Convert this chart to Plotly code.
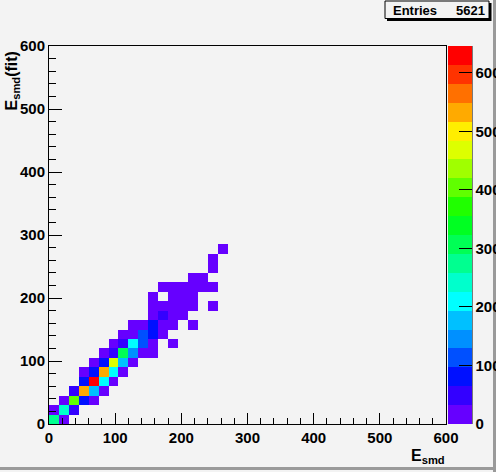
import plotly.graph_objects as go

# ---------------- data (bin lower edges in E_smd units, bin width 15) ----------------
bin_width = 15
n_bins = 40
cell_x = [0, 15,
          0, 15, 30,
          15, 30, 45, 60,
          30, 45, 60, 75,
          45, 60, 75, 90,
          45, 60, 75, 90, 105,
          60, 75, 90, 105, 120,
          75, 90, 105, 120, 135, 150,
          90, 105, 120, 135, 150, 180,
          105, 120, 135, 150, 165,
          120, 135, 150, 165, 180, 210,
          150, 165, 180, 195,
          150, 165, 180, 195, 210, 240,
          150, 180, 195, 210,
          165, 180, 195, 210, 225, 240,
          210, 225,
          240,
          240,
          255]
cell_y = [0, 0,
          15, 15, 15,
          30, 30, 30, 30,
          45, 45, 45, 45,
          60, 60, 60, 60,
          75, 75, 75, 75, 75,
          90, 90, 90, 90, 90,
          105, 105, 105, 105, 105, 105,
          120, 120, 120, 120, 120, 120,
          135, 135, 135, 135, 135,
          150, 150, 150, 150, 150, 150,
          165, 165, 165, 165,
          180, 180, 180, 180, 180, 180,
          195, 195, 195, 195,
          210, 210, 210, 210, 210, 210,
          225, 225,
          240,
          255,
          270]
cell_count = [270, 10,
              8, 235, 40,
              12, 395, 70, 6,
              40, 530, 170, 10,
              70, 646, 205, 14,
              10, 72, 535, 200, 18,
              12, 68, 460, 172, 20,
              15, 45, 300, 140, 20, 10,
              15, 42, 200, 105, 18, 3,
              10, 20, 100, 75, 14,
              8, 14, 70, 18, 8, 2,
              12, 38, 16, 10,
              8, 10, 12, 10, 5, 2,
              4, 6, 8, 5,
              3, 4, 5, 4, 3, 2,
              3, 2,
              2,
              1,
              1]
entries = 5621
z_max = 646
axis_ticks = [0, 100, 200, 300, 400, 500, 600]
palette = ["#6600ff", "#3300ff", "#0010ff", "#0050ff", "#0090ff",
           "#00c0ff", "#00ffff", "#00ffcc", "#00ff90", "#00ff55",
           "#00ff22", "#20ff00", "#60ff00", "#a0ff00", "#ddff00",
           "#ffee00", "#ffaa00", "#ff7000", "#ff3300", "#ff0000"]

# ---------------- build histogram matrix ----------------
centers = [i * bin_width + bin_width / 2 for i in range(n_bins)]
z = [[None] * n_bins for _ in range(n_bins)]
for xv, yv, c in zip(cell_x, cell_y, cell_count):
    z[yv // bin_width][xv // bin_width] = c

ncol = len(palette)
colorscale = []
for k, col in enumerate(palette):
    colorscale.append([k / ncol, col])
    colorscale.append([(k + 1) / ncol, col])

# ---------------- geometry helpers (pixels -> paper) ----------------
W, H = 496, 472
L, R, T, B = 49, 50, 46, 48
pw, ph = W - L - R, H - T - B


def px(x):
    return (x - L) / pw


def py(y):
    return (H - B - y) / ph


BG = "#f3f3f3"
font_bold = dict(family="Liberation Sans, Arial, sans-serif", size=15, color="black", weight="bold")

fig = go.Figure()
fig.add_trace(go.Heatmap(
    x=centers, y=centers, z=z,
    zmin=0, zmax=z_max,
    colorscale=colorscale,
    hoverongaps=False,
    colorbar=dict(
        x=px(448), xanchor="left", xpad=0,
        y=0.5, yanchor="middle", ypad=0,
        len=1, lenmode="fraction",
        thickness=24, thicknessmode="pixels",
        outlinewidth=0,
        tickmode="array", tickvals=axis_ticks,
        ticks="inside", ticklen=13, tickcolor="black", tickwidth=1,
        tickfont=font_bold,
    ),
))

fig.update_xaxes(
    range=[0, 600], tickmode="array", tickvals=axis_ticks,
    ticks="inside", ticklen=11, tickcolor="black",
    minor=dict(ticks="inside", dtick=20, ticklen=6, tickcolor="black"),
    showline=True, linecolor="black", linewidth=1, mirror=True,
    showgrid=False, zeroline=False, tickfont=font_bold,
)
fig.update_yaxes(
    range=[0, 600], tickmode="array", tickvals=axis_ticks,
    ticks="inside", ticklen=13, tickcolor="black",
    minor=dict(ticks="inside", dtick=20, ticklen=7, tickcolor="black"),
    showline=True, linecolor="black", linewidth=1, mirror=True,
    showgrid=False, zeroline=False, tickfont=font_bold,
)

shapes = [
    # palette axis line
    dict(type="line", xref="paper", yref="paper", x0=px(472), x1=px(472), y0=0, y1=1,
         line=dict(color="black", width=1)),
    # stats box shadow + box
    dict(type="rect", xref="paper", yref="paper", x0=px(387), x1=px(491.5), y0=py(21), y1=py(3),
         fillcolor="black", line=dict(width=0)),
    dict(type="rect", xref="paper", yref="paper", x0=px(385), x1=px(489), y0=py(18.5), y1=py(1),
         fillcolor=BG, line=dict(color="black", width=1)),
    # canvas bevel
    dict(type="rect", xref="paper", yref="paper", x0=px(493), x1=px(497), y0=py(472), y1=py(0),
         fillcolor="#9a9a9a", line=dict(width=0)),
    dict(type="rect", xref="paper", yref="paper", x0=px(0), x1=px(497), y0=py(470), y1=py(467),
         fillcolor="#9a9a9a", line=dict(width=0)),
]

annotations = [
    dict(text="<b>Entries</b>", xref="paper", yref="paper", x=px(391), y=py(10.5),
         xanchor="left", yanchor="middle", showarrow=False,
         font=dict(family="Liberation Sans, Arial", size=13, color="black")),
    dict(text="<b>%d</b>" % entries, xref="paper", yref="paper", x=px(486.5), y=py(10.5),
         xanchor="right", yanchor="middle", showarrow=False,
         font=dict(family="Liberation Sans, Arial", size=13, color="black")),
    dict(text="<b>E<sub>smd</sub></b>", xref="paper", yref="paper", x=px(447), y=py(456),
         xanchor="right", yanchor="middle", showarrow=False,
         font=dict(family="Liberation Sans, Arial", size=16, color="black")),
    dict(text="<b>E<sub>smd</sub>(fit)</b>", xref="paper", yref="paper", x=px(12), y=py(50),
         xanchor="center", yanchor="top", showarrow=False, textangle=-90,
         font=dict(family="Liberation Sans, Arial", size=16, color="black")),
]

fig.update_layout(
    width=W, height=H,
    margin=dict(l=L, r=R, t=T, b=B, autoexpand=False),
    paper_bgcolor=BG, plot_bgcolor=BG,
    shapes=shapes, annotations=annotations,
    showlegend=False,
)

fig.write_html("out.html", config={"displayModeBar": False},
               post_script="document.body.style.margin='0';document.body.style.overflow='hidden';")
